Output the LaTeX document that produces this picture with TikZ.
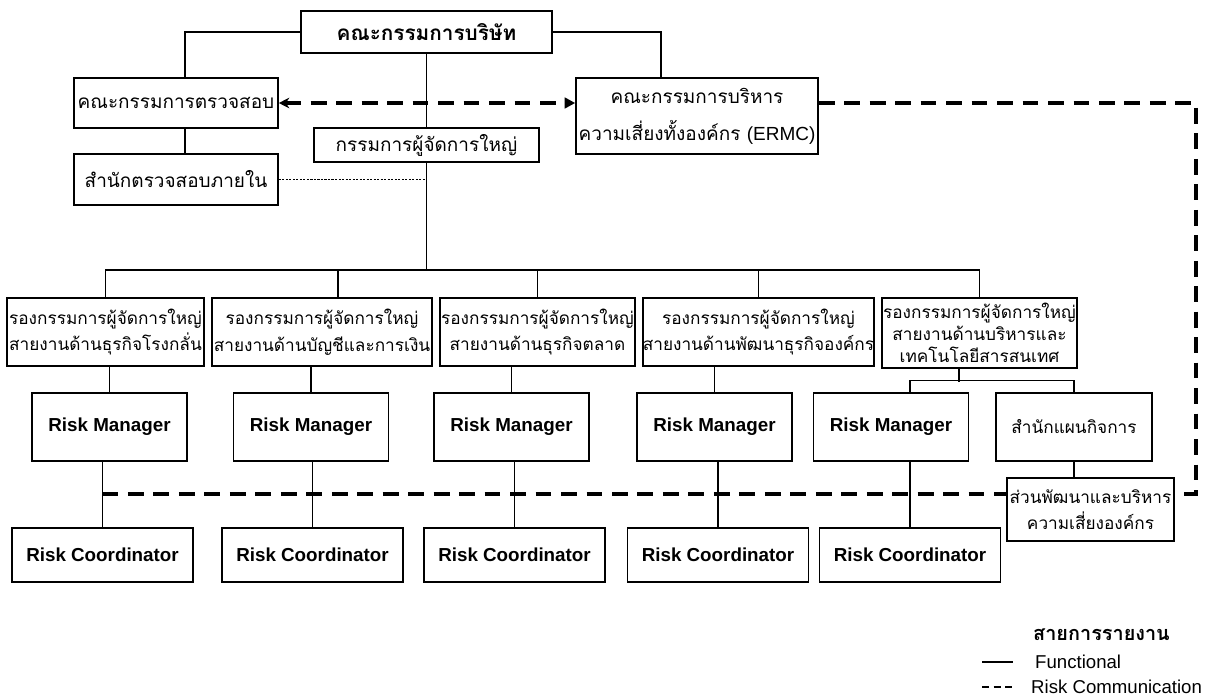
\documentclass[tikz,border=0pt]{standalone}
\usepackage{fontspec}
\setmainfont{Liberation Sans}
\newfontfamily\thaifont[Script=Thai]{Loma}
\usetikzlibrary{arrows.meta,calc}

\tikzset{
  unitbox/.style={draw, line width=0.9pt, inner sep=0pt, align=center},
  thaibox/.style={unitbox, font=\thaifont\fontsize{10.8}{#1}\selectfont},
  thaibox/.default=15,
  vpbox/.style={unitbox, font=\thaifont\fontsize{9.8}{#1}\selectfont},
  vpbox/.default=15.3,
  riskbox/.style={unitbox, font=\bfseries\fontsize{10.7}{13}\selectfont},
  link/.style={line width=0.75pt},
  riskcom/.style={line width=2.2pt, dash pattern=on 9pt off 5.5pt},
  auditline/.style={line width=0.7pt, dash pattern=on 1.2pt off 0.8pt},
}

\begin{document}
\begin{tikzpicture}[x=0.02cm, y=-0.02cm]
			%%%%% START %%%%%
			\useasboundingbox (0,0) rectangle (1215,697);
			
			\node[thaibox, minimum width=5.02cm, minimum height=0.84cm, font=\thaifont\bfseries\fontsize{11.8}{15}\selectfont] (board) at (426.5,32) {คณะกรรมการบริษัท};
			\node[thaibox, minimum width=4.08cm, minimum height=1cm] (audit) at (176,103) {คณะกรรมการตรวจสอบ};
			\node[thaibox=21, minimum width=4.84cm, minimum height=1.52cm] (ermc) at (697,116) {คณะกรรมการบริหาร\\ความเสี่ยงทั้งองค์กร {\rmfamily (ERMC)}};
			\node[thaibox, minimum width=4.5cm, minimum height=0.68cm] (md) at (426.5,145) {กรรมการผู้จัดการใหญ่};
			\node[thaibox, minimum width=4.08cm, minimum height=1.02cm] (ia) at (176,179.5) {สำนักตรวจสอบภายใน};
			
			\node[vpbox, minimum width=3.94cm, minimum height=1.36cm] (vp1) at (105.5,332) {รองกรรมการผู้จัดการใหญ่\\สายงานด้านธุรกิจโรงกลั่น};
			\node[vpbox, minimum width=4.4cm, minimum height=1.36cm] (vp2) at (322,332) {รองกรรมการผู้จัดการใหญ่\\สายงานด้านบัญชีและการเงิน};
			\node[vpbox, minimum width=3.9cm, minimum height=1.36cm] (vp3) at (537.5,332) {รองกรรมการผู้จัดการใหญ่\\สายงานด้านธุรกิจตลาด};
			\node[vpbox, minimum width=4.62cm, minimum height=1.36cm] (vp4) at (758.5,332) {รองกรรมการผู้จัดการใหญ่\\สายงานด้านพัฒนาธุรกิจองค์กร};
			\node[vpbox=12.5, minimum width=3.9cm, minimum height=1.4cm] (vp5) at (979.5,333) {รองกรรมการผู้จัดการใหญ่\\สายงานด้านบริหารและ\\เทคโนโลยีสารสนเทศ};
			
			\node[riskbox, minimum width=3.1cm, minimum height=1.36cm] (rm1) at (109.5,427) {Risk Manager};
			\node[riskbox, minimum width=3.1cm, minimum height=1.36cm] (rm2) at (311,427) {Risk Manager};
			\node[riskbox, minimum width=3.1cm, minimum height=1.36cm] (rm3) at (511.5,427) {Risk Manager};
			\node[riskbox, minimum width=3.1cm, minimum height=1.36cm] (rm4) at (714.5,427) {Risk Manager};
			\node[riskbox, minimum width=3.1cm, minimum height=1.36cm] (rm5) at (891,427) {Risk Manager};
			\node[vpbox, minimum width=3.12cm, minimum height=1.36cm] (plan) at (1074,427) {สำนักแผนกิจการ};
			
			\node[riskbox, minimum width=3.62cm, minimum height=1.08cm] (rc1) at (102.5,555) {Risk Coordinator};
			\node[riskbox, minimum width=3.62cm, minimum height=1.08cm] (rc2) at (312.5,555) {Risk Coordinator};
			\node[riskbox, minimum width=3.62cm, minimum height=1.08cm] (rc3) at (514.5,555) {Risk Coordinator};
			\node[riskbox, minimum width=3.62cm, minimum height=1.08cm] (rc4) at (718,555) {Risk Coordinator};
			\node[riskbox, minimum width=3.62cm, minimum height=1.08cm] (rc5) at (910,555) {Risk Coordinator};
			\node[vpbox=14.7, minimum width=3.34cm, minimum height=1.26cm] (erm) at (1090.5,509.5) {ส่วนพัฒนาและบริหาร\\ความเสี่ยงองค์กร};
			
			% functional lines
			\draw[link] (board.west) -| ([xshift=0.18cm]audit.north);
			\draw[link] (board.east) -| ([xshift=-0.72cm]ermc.north);
			\draw[link] (board.south) -- (md.north);
			\draw[link] ([xshift=0.18cm]audit.south) -- ([xshift=0.18cm]ia.north);
			\coordinate (bus) at (426.5,270);
			\draw[link] (md.south) -- (bus);
			\draw[link] (vp1.north) |- (bus) -| (vp5.north);
			\draw[link] ([xshift=0.32cm]vp2.north) -- ([xshift=0.32cm]vp2.north |- bus);
			\foreach \v in {3,4}
				\draw[link] (vp\v.north) -- (vp\v.north |- bus);
			\foreach \v in {1,2,3,4}
				\draw[link] (rm\v.north |- vp\v.south) -- (rm\v.north);
			\draw[link] ([xshift=-0.41cm]vp5.south) -- ++(0,13);
			\draw[link] (rc5.north |- rm5.north) -- ++(0,-12) -| (plan.north);
			\foreach \v in {1,...,5}
				\draw[link] (rc\v.north |- rm\v.south) -- (rc\v.north);
			\draw[link] (plan.south) -- (plan.south |- erm.north);
			\draw[auditline] (ia.east) -- (ia.east -| md.south);
			
			% risk communication
			\coordinate (corner) at (1196,494);
			\draw[riskcom, {Stealth[length=6pt,width=6pt]}-{Triangle[length=6pt,width=6pt]}] (audit.east) -- (audit.east -| ermc.west);
			\draw[riskcom] (audit.east -| ermc.east) -| (corner) -- (corner -| erm.east);
			\draw[riskcom] (rc1.north |- corner) -- (corner -| erm.west);
			
			% legend
			\node[anchor=west, font=\thaifont\bfseries\fontsize{11.3}{13}\selectfont] (legtitle) at (1027,635) {สายการรายงาน};
			\node[anchor=west, font=\fontsize{10.6}{12}\selectfont] (legfunc) at (1029,662) {Functional};
			\node[anchor=west, font=\fontsize{10.6}{12}\selectfont] (legcom) at (1025,687) {Risk Communication};
			\coordinate (funcstart) at (982,662);
			\coordinate (comstart) at (982,687);
			\draw[line width=1.2pt] (funcstart) -- ++(31,0);
			\draw[line width=1.3pt, dash pattern=on 4pt off 2.6pt] (comstart) -- ++(31,0);
			
			%%%%% END %%%%%
\end{tikzpicture}
\end{document}
